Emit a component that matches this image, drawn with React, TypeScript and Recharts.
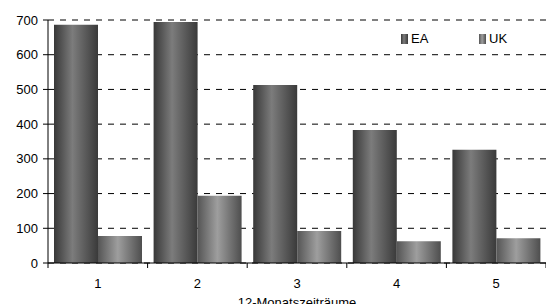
import React from 'react';
import { BarChart, Bar, XAxis, YAxis, CartesianGrid, Legend } from 'recharts';

const categories = ['1', '2', '3', '4', '5'];
const eaValues = [686, 694, 513, 383, 326];
const ukValues = [78, 194, 92, 63, 71];
const yTicks = [0, 100, 200, 300, 400, 500, 600, 700];
const xAxisTitle = '12-Monatszeiträume';

const data = categories.map((c, i) => ({ name: c, EA: eaValues[i], UK: ukValues[i] }));

const W = 546;
const H = 304;
const YW = 48;
const FONT = 'Liberation Sans, Arial, sans-serif';

const XTick = (props: any) => {
  const { x, y, payload, index } = props;
  const bw = (W - YW) / categories.length;
  return (
    <g>
      {index === 0 && <line x1={x - bw / 2} x2={x - bw / 2} y1={y} y2={y + 5} stroke="#000" />}
      <line x1={x + bw / 2} x2={x + bw / 2} y1={y} y2={y + 5} stroke="#000" />
      <text x={x} y={y + 25} textAnchor="middle" fontSize={13} fontFamily={FONT} fill="#000">
        {payload.value}
      </text>
    </g>
  );
};

const LegendContent = (props: any) => {
  const { payload } = props;
  return (
    <div style={{ display: 'flex', fontFamily: FONT, fontSize: 13, color: '#000', lineHeight: '15px' }}>
      {payload.map((p: any) => (
        <div key={p.value} style={{ display: 'flex', alignItems: 'center', width: 78 }}>
          <svg width={8} height={10} style={{ marginRight: 2, display: 'block' }}>
            <rect width={7} height={10} fill={p.value === 'EA' ? 'url(#gEA)' : 'url(#gUK)'} />
          </svg>
          <span>{p.value}</span>
        </div>
      ))}
    </div>
  );
};

export default function App() {
  return (
    <div style={{ position: 'absolute', left: 0, top: 0, width: W, height: H, background: '#fff' }}>
      <BarChart
        width={W}
        height={H}
        data={data}
        margin={{ top: 20, right: 0, left: 0, bottom: 0 }}
        barCategoryGap={6}
        barGap={0}
      >
        <defs>
          <linearGradient id="gEA" x1="0" y1="0" x2="1" y2="0">
            <stop offset="0" stopColor="#383838" />
            <stop offset="0.42" stopColor="#7c7c7c" />
            <stop offset="1" stopColor="#3a3a3a" />
          </linearGradient>
          <linearGradient id="gUK" x1="0" y1="0" x2="1" y2="0">
            <stop offset="0" stopColor="#555555" />
            <stop offset="0.45" stopColor="#9e9e9e" />
            <stop offset="1" stopColor="#4e4e4e" />
          </linearGradient>
        </defs>
        <CartesianGrid vertical={false} stroke="#000" strokeDasharray="6 6" />
        <XAxis
          dataKey="name"
          height={41}
          tickLine={false}
          tickSize={0}
          tickMargin={0}
          axisLine={{ stroke: '#000' }}
          tick={<XTick />}
          interval={0}
          label={{ value: xAxisTitle, position: 'insideBottom', offset: -3, fontSize: 13, fontFamily: FONT, fill: '#000' }}
        />
        <YAxis
          width={YW}
          domain={[0, 700]}
          ticks={yTicks}
          interval={0}
          tickSize={5}
          tickMargin={5}
          axisLine={{ stroke: '#000' }}
          tickLine={{ stroke: '#000' }}
          tick={{ fontSize: 13, fontFamily: FONT, fill: '#000' }}
        />
        <Legend
          layout="horizontal"
          verticalAlign="middle"
          align="center"
          content={<LegendContent />}
          wrapperStyle={{ top: 31, left: 401, width: 160 }}
        />
        <Bar dataKey="EA" fill="url(#gEA)" isAnimationActive={false} />
        <Bar dataKey="UK" fill="url(#gUK)" isAnimationActive={false} />
      </BarChart>
    </div>
  );
}
